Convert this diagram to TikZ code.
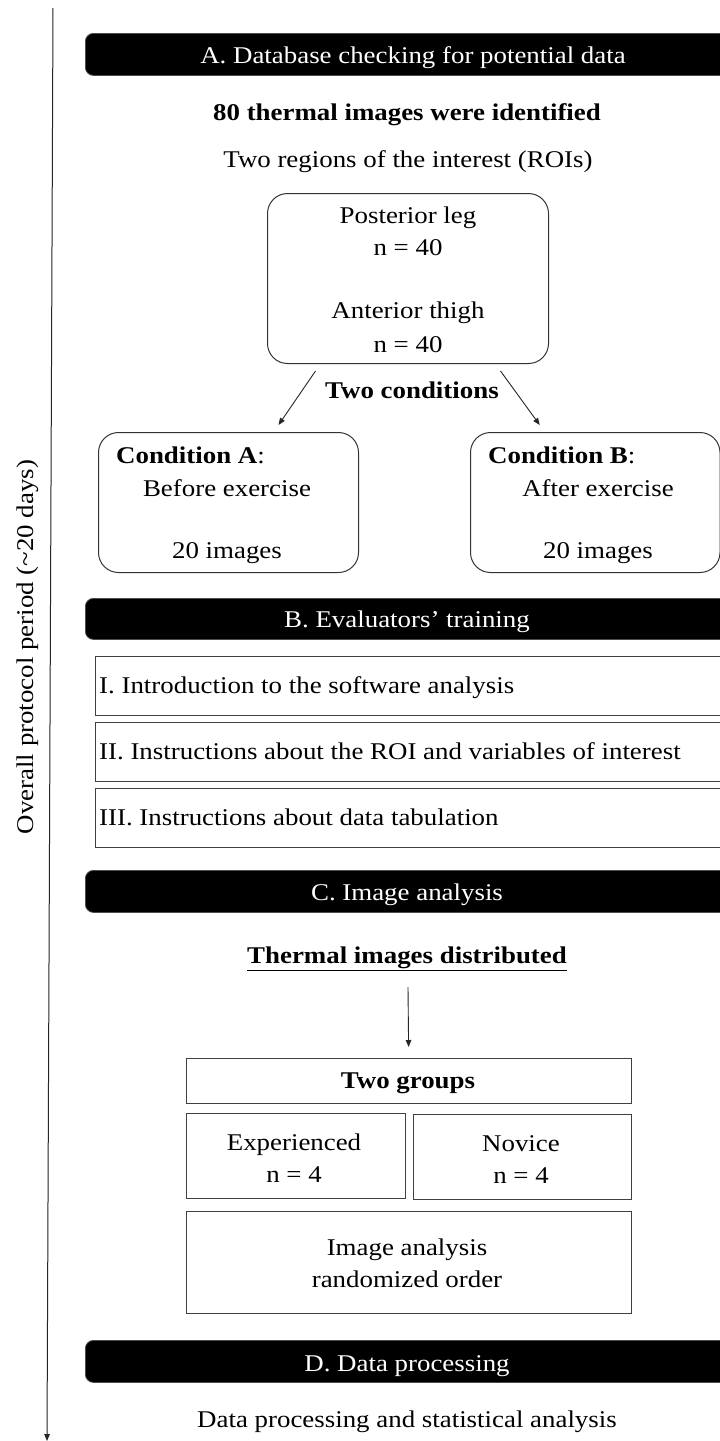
\documentclass[tikz,border=0pt]{standalone}
\usepackage{fontspec}
\setmainfont{Liberation Serif}[FakeStretch=1.12]
\usetikzlibrary{arrows.meta,calc}
\begin{document}
\begin{tikzpicture}[x=1pt,y=-1pt,
  txt/.style={anchor=base,inner sep=0pt,font=\fontsize{24}{28}\selectfont},
  txtl/.style={txt,anchor=base west},
  htxt/.style={txt,text=white},
  hdr/.style={fill=black,draw=black!70,line width=0.8pt,rounded corners=8pt,anchor=north west,minimum width=680pt,minimum height=42pt,inner sep=0pt},
  rbox/.style={draw=black!80,line width=1pt,rounded corners=20pt,anchor=north west,inner sep=0pt},
  sbox/.style={draw=black!75,line width=1.2pt,anchor=north west,inner sep=0pt},
  arr/.style={draw=black!85,line width=0.9pt,-{Triangle[length=7pt,width=5.5pt]}}]
\useasboundingbox (0,0) rectangle (720,1441);
\fill[white] (0,0) rectangle (720,1441);

% timeline
\coordinate (tl0) at (53,8);
\coordinate (tl1) at (47,1441);
\draw[arr,line width=1pt] (tl0) -- (tl1);
\node[txt,rotate=90] (tllabel) at (33,647) {Overall protocol period (\textasciitilde20 days)};

% A
\node[hdr] (hA) at (85,33) {};
\node[htxt] (hAt) at (413,63) {A. Database checking for potential data};
\node[txt] (t80) at (407,120) {\textbf{80 thermal images were identified}};
\node[txt] (troi) at (408,167) {Two regions of the interest (ROIs)};
\node[rbox,minimum width=281pt,minimum height=170pt] (post) at (267,193) {};
\node[txt] (p1) at (408,223) {Posterior leg};
\node[txt] (p2) at (408,255) {n = 40};
\node[txt] (p3) at (408,318) {Anterior thigh};
\node[txt] (p4) at (408,352) {n = 40};
\node[txt] (twoc) at (412,398) {\textbf{Two conditions}};
\node[rbox,minimum width=260pt,minimum height=140pt] (condA) at (98,432) {};
\node[rbox,minimum width=249.5pt,minimum height=140pt] (condB) at (470,432) {};
\node[txtl] (ca1) at (116,463) {\textbf{Condition A}:};
\node[txt] (ca2) at (227,496) {Before exercise};
\node[txt] (ca3) at (227,558) {20 images};
\node[txtl] (cb1) at (488,463) {\textbf{Condition B}:};
\node[txt] (cb2) at (598,496) {After exercise};
\node[txt] (cb3) at (598,558) {20 images};
\draw[arr] ($(post.south)+(-92.5,7)$) -- ($(condA.north)+(50,-7)$);
\draw[arr] ($(post.south)+(92.5,7)$) -- ($(condB.north)+(-55.5,-7)$);

% B
\node[hdr,minimum height=41pt] (hB) at (85,598) {};
\node[htxt] (hBt) at (407,627) {B. Evaluators’ training};
\node[sbox,minimum width=660pt,minimum height=59pt] (b1) at (95,656) {};
\node[sbox,minimum width=660pt,minimum height=59pt] (b2) at (95,722) {};
\node[sbox,minimum width=660pt,minimum height=59pt] (b3) at (95,788) {};
\node[txtl] (b1t) at (99,693) {I. Introduction to the software analysis};
\node[txtl] (b2t) at (99,759) {II. Instructions about the ROI and variables of interest};
\node[txtl] (b3t) at (99,825) {III. Instructions about data tabulation};

% C
\node[hdr] (hC) at (85,870) {};
\node[htxt] (hCt) at (407,900) {C. Image analysis};
\node[txt] (tdist) at (407,963) {\textbf{\underline{Thermal images distributed}}};
\node[sbox,minimum width=445pt,minimum height=45pt] (grp) at (186,1058) {};
\node[txt] (grpt) at (408,1088) {\textbf{Two groups}};
\coordinate (ar0) at (408,987);
\draw[arr] (ar0) -- ($(grp.north)+(-0.5,-11)$);
\node[sbox,minimum width=219pt,minimum height=85pt] (exp) at (186,1113) {};
\node[sbox,minimum width=218pt,minimum height=85pt] (nov) at (413,1114) {};
\node[txt] (e1) at (294,1150) {Experienced};
\node[txt] (e2) at (294,1182) {n = 4};
\node[txt] (n1) at (521,1151) {Novice};
\node[txt] (n2) at (521,1183) {n = 4};
\node[sbox,minimum width=445pt,minimum height=102pt] (ia) at (186,1211) {};
\node[txt] (ia1) at (407,1255) {Image analysis};
\node[txt] (ia2) at (407,1287) {randomized order};

% D
\node[hdr] (hD) at (85,1340) {};
\node[htxt] (hDt) at (407,1371) {D. Data processing};
\node[txt] (dp) at (407,1427) {Data processing and statistical analysis};
\end{tikzpicture}
\end{document}
